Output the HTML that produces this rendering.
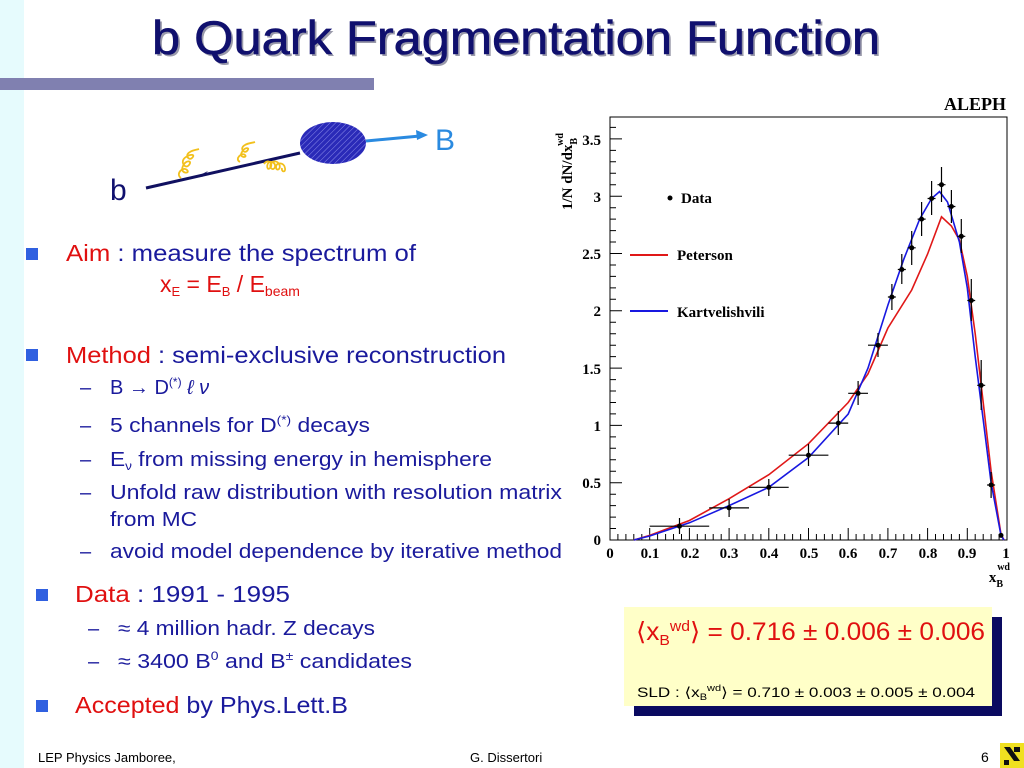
<!DOCTYPE html>
<html><head><meta charset="utf-8"><style>
html,body{margin:0;padding:0;background:#fff;}
svg{display:block}
.t{font-family:"Liberation Sans","DejaVu Sans",sans-serif;}
.s{font-family:"Liberation Serif","DejaVu Serif",serif;font-weight:bold;}
</style></head><body>
<svg width="1024" height="768" viewBox="0 0 1024 768" xmlns="http://www.w3.org/2000/svg">
<defs>
<pattern id="h" width="4" height="4" patternUnits="userSpaceOnUse" patternTransform="rotate(45)">
<rect width="4" height="4" fill="#2a2ab8"/><line x1="0" y1="0" x2="0" y2="4" stroke="#8a8ae8" stroke-width="1"/>
</pattern>
</defs>
<rect x="0" y="0" width="24" height="768" fill="#e6fbfd"/>
<rect x="0" y="78" width="374" height="12" fill="#8080b0"/>
<!-- title -->
<text class="t" x="154" y="56" font-size="47" fill="#9a9aaa" textLength="728" lengthAdjust="spacingAndGlyphs">b Quark Fragmentation Function</text>
<text class="t" x="152" y="54" font-size="47" fill="#10106e" stroke="#10106e" stroke-width="0.6" textLength="728" lengthAdjust="spacingAndGlyphs">b Quark Fragmentation Function</text>

<!-- diagram -->
<line x1="146" y1="188" x2="300" y2="153" stroke="#101060" stroke-width="3"/>
<path d="M200 175 l8 -4 l-6 6z" fill="#101060"/>
<ellipse cx="333" cy="143" rx="33" ry="21" fill="url(#h)"/>
<line x1="366" y1="141" x2="420" y2="136" stroke="#2a8ae0" stroke-width="3"/>
<path d="M428 135 l-12 -5 l1 10z" fill="#2a8ae0"/>
<g fill="none" stroke="#f2c01c" stroke-width="1.8">
<path d="M181 178 c-6 -4 2 -12 6 -8 c4 4 -8 4 -4 -4 c2 -6 10 -6 6 -1 c-4 5 -10 -4 -3 -8 c4 -3 10 -3 6 1 c-3 3 -8 -3 -2 -6 c3 -2 6 -2 9 -3"/>
<path d="M240 162 c-6 -3 2 -10 5 -7 c3 3 -7 3 -3 -3 c2 -5 9 -5 5 -1 c-3 3 -8 -3 -2 -6 c3 -2 7 -2 10 -3"/>
<path d="M264 164 c4 -6 10 0 6 4 c-4 4 -4 -8 2 -6 c6 2 2 10 -1 6 c-3 -4 4 -10 8 -4 c3 5 -3 8 -3 3 c0 -5 8 -5 9 1 c1 5 -4 4 -3 0"/>
</g>
<text class="t" x="110" y="200" font-size="30" fill="#10106e">b</text>
<text class="t" x="435" y="150" font-size="30" fill="#2a8ae0">B</text>

<!-- bullets -->
<g class="t" fill="#1a1a9c">
<rect x="26" y="248" width="12" height="12" fill="#3060e0"/>
<text x="66" y="261" font-size="23" textLength="350" lengthAdjust="spacingAndGlyphs"><tspan fill="#e01010">Aim</tspan> : measure the spectrum of</text>
<text x="160" y="292" font-size="23" fill="#e01010">x<tspan font-size="13" dy="4">E</tspan><tspan dy="-4"> = E</tspan><tspan font-size="13" dy="4">B</tspan><tspan dy="-4"> / E</tspan><tspan font-size="14" dy="4">beam</tspan></text>
<rect x="26" y="349" width="12" height="12" fill="#3060e0"/>
<text x="66" y="363" font-size="23" textLength="440" lengthAdjust="spacingAndGlyphs"><tspan fill="#e01010">Method</tspan> : semi-exclusive reconstruction</text>
<g font-size="20">
<text x="80" y="394">–</text><text x="110" y="394">B → D<tspan font-size="12" dy="-8">(*)</tspan><tspan dy="8" font-style="italic"> ℓ ν</tspan></text>
<text x="80" y="432">–</text><text x="110" y="432" textLength="260" lengthAdjust="spacingAndGlyphs">5 channels for D<tspan font-size="12" dy="-8">(*)</tspan><tspan dy="8"> decays</tspan></text>
<text x="80" y="466">–</text><text x="110" y="466" textLength="382" lengthAdjust="spacingAndGlyphs">E<tspan font-size="12" dy="4">ν</tspan><tspan dy="-4"> from missing energy in hemisphere</tspan></text>
<text x="80" y="499">–</text><text x="110" y="499" textLength="452" lengthAdjust="spacingAndGlyphs">Unfold raw distribution with resolution matrix</text>
<text x="110" y="526" textLength="87" lengthAdjust="spacingAndGlyphs">from MC</text>
<text x="80" y="558">–</text><text x="110" y="558" textLength="452" lengthAdjust="spacingAndGlyphs">avoid model dependence by iterative method</text>
</g>
<rect x="36" y="589" width="12" height="12" fill="#3060e0"/>
<text x="75" y="602" font-size="23" textLength="215" lengthAdjust="spacingAndGlyphs"><tspan fill="#e01010">Data</tspan> : 1991 - 1995</text>
<g font-size="20">
<text x="88" y="635">–</text><text x="118" y="635" textLength="257" lengthAdjust="spacingAndGlyphs">≈ 4 million hadr. Z decays</text>
<text x="88" y="668">–</text><text x="118" y="668" textLength="294" lengthAdjust="spacingAndGlyphs">≈ 3400  B<tspan font-size="12" dy="-8">0</tspan><tspan dy="8"> and B</tspan><tspan font-size="12" dy="-8">±</tspan><tspan dy="8"> candidates</tspan></text>
</g>
<rect x="36" y="700" width="12" height="12" fill="#3060e0"/>
<text x="75" y="713" font-size="23" textLength="273" lengthAdjust="spacingAndGlyphs"><tspan fill="#e01010">Accepted</tspan> by Phys.Lett.B</text>
</g>

<!-- footer -->
<g class="t" font-size="13" fill="#000">
<text x="38" y="762">LEP Physics Jamboree,</text>
<text x="470" y="762">G. Dissertori</text>
<text x="981" y="762" font-size="14">6</text>
</g>
<rect x="1000" y="743" width="24" height="25" fill="#f0e020"/>
<path d="M1004 747 l6 0 l10 14 l-6 0z M1004 760 l5 0 l0 5 l-5 0z M1014 747 l6 0 l0 5 l-6 0z" fill="#111"/>

<!-- result box -->
<rect x="634" y="617" width="368" height="99" fill="#0a0a60"/>
<rect x="624" y="607" width="368" height="99" fill="#ffffc8"/>
<text class="t" x="636" y="640" font-size="25" fill="#e01010" textLength="349" lengthAdjust="spacingAndGlyphs">⟨x<tspan font-size="15" dy="5">B</tspan><tspan font-size="15" dy="-14">wd</tspan><tspan dy="9">⟩ = 0.716 ± 0.006 ± 0.006</tspan></text>
<text class="t" x="637" y="697" font-size="14" fill="#000" textLength="338" lengthAdjust="spacingAndGlyphs">SLD : ⟨x<tspan font-size="9" dy="3">B</tspan><tspan font-size="9" dy="-9">wd</tspan><tspan dy="6">⟩ = 0.710 ± 0.003 ± 0.005 ± 0.004</tspan></text>

<!-- chart -->
<rect x="610" y="117" width="397" height="423" fill="none" stroke="#000" stroke-width="1"/>
<g stroke="#000" stroke-width="1">
<path d="M610 540 h12 M610 482.7 h12 M610 425.4 h12 M610 368.1 h12 M610 310.8 h12 M610 253.5 h12 M610 196.2 h12 M610 138.9 h12"/>
<path d="M610 528.5 h6 M610 517.1 h6 M610 505.6 h6 M610 494.2 h6 M610 471.2 h6 M610 459.8 h6 M610 448.3 h6 M610 436.9 h6 M610 413.9 h6 M610 402.5 h6 M610 391 h6 M610 379.6 h6 M610 356.6 h6 M610 345.2 h6 M610 333.7 h6 M610 322.3 h6 M610 299.3 h6 M610 287.9 h6 M610 276.4 h6 M610 265 h6 M610 242 h6 M610 230.6 h6 M610 219.1 h6 M610 207.7 h6 M610 184.7 h6 M610 173.3 h6 M610 161.8 h6 M610 150.4 h6 M610 127.4 h6"/>
<path d="M649.7 540 v-12 M689.4 540 v-12 M729.1 540 v-12 M768.8 540 v-12 M808.5 540 v-12 M848.2 540 v-12 M887.9 540 v-12 M927.6 540 v-12 M967.3 540 v-12"/>
<path d="M617.9 540v-6M625.9 540v-6M633.8 540v-6M641.8 540v-6M657.6 540v-6M665.6 540v-6M673.5 540v-6M681.5 540v-6M697.3 540v-6M705.3 540v-6M713.2 540v-6M721.2 540v-6M737 540v-6M745 540v-6M752.9 540v-6M760.9 540v-6M776.7 540v-6M784.7 540v-6M792.6 540v-6M800.6 540v-6M816.4 540v-6M824.4 540v-6M832.3 540v-6M840.3 540v-6M856.1 540v-6M864.1 540v-6M872 540v-6M880 540v-6M895.8 540v-6M903.8 540v-6M911.7 540v-6M919.7 540v-6M935.5 540v-6M943.5 540v-6M951.4 540v-6M959.4 540v-6M975.2 540v-6M983.2 540v-6M991.1 540v-6M999.1 540v-6"/>
</g>
<g class="s" font-size="15" fill="#000" text-anchor="end">
<text x="601" y="545">0</text><text x="601" y="488">0.5</text><text x="601" y="431">1</text><text x="601" y="374">1.5</text><text x="601" y="316">2</text><text x="601" y="259">2.5</text><text x="601" y="202">3</text><text x="601" y="145">3.5</text>
</g>
<g class="s" font-size="15" fill="#000" text-anchor="middle">
<text x="610" y="558">0</text><text x="650" y="558">0.1</text><text x="690" y="558">0.2</text><text x="729" y="558">0.3</text><text x="769" y="558">0.4</text><text x="809" y="558">0.5</text><text x="848" y="558">0.6</text><text x="888" y="558">0.7</text><text x="928" y="558">0.8</text><text x="967" y="558">0.9</text><text x="1006" y="558">1</text>
</g>
<text class="s" x="1003" y="582" font-size="15" text-anchor="end">x<tspan font-size="10" dy="5">B</tspan></text>
<text class="s" x="1010" y="570" font-size="10" text-anchor="end">wd</text>
<text class="s" x="1006" y="110" font-size="18" text-anchor="end">ALEPH</text>
<text class="s" transform="translate(572,210) rotate(-90)" font-size="15">1/N dN/dx<tspan font-size="10" dy="5">B</tspan><tspan font-size="10" dy="-14" dx="-8">wd</tspan></text>
<!-- legend -->
<circle cx="670" cy="198" r="2.5" fill="#000"/>
<text class="s" x="681" y="203" font-size="15">Data</text>
<line x1="630" y1="255" x2="668" y2="255" stroke="#e01818" stroke-width="2"/>
<text class="s" x="677" y="260" font-size="15">Peterson</text>
<line x1="630" y1="311" x2="668" y2="311" stroke="#1818e0" stroke-width="2"/>
<text class="s" x="677" y="317" font-size="15">Kartvelishvili</text>
<!-- curves -->
<polyline fill="none" stroke="#e01818" stroke-width="1.6" points="633.8,540 649.7,535.4 689.4,520.5 729.1,498.7 768.8,474.7 808.5,443.7 848.2,402.5 868,373.8 887.9,328 911.7,290 927.6,254 941.5,216.8 951.4,226 959.4,240 967.3,276.4 975.2,333.7 983.2,402.5 991.1,471.2 1001,534.3 1004,540"/>
<polyline fill="none" stroke="#1818e0" stroke-width="1.6" points="633.8,540 649.7,536 689.4,522.8 729.1,505.6 768.8,487.3 808.5,457.5 848.2,414 868,368.1 887.9,305.1 903.8,259.2 919.7,219.1 931.6,198.5 939.5,191.6 947.5,202 959.4,242 967.3,287.9 975.2,356.6 983.2,419.7 991.1,482.7 1001,535.4 1004,540"/>
<!-- data -->
<g stroke="#000" stroke-width="1.2">
<path d="M649.7 526.2 H709.2 M679.5 518 v16"/>
<path d="M709.2 507.9 H749 M729.1 499 v18"/>
<path d="M749 487.3 H788.7 M768.8 479 v17"/>
<path d="M788.7 455.2 H828.4 M808.5 444 v22"/>
<path d="M828.4 423.1 H848.2 M838.3 411 v24"/>
<path d="M848.2 393.3 H868 M858.1 381 v24"/>
<path d="M868 345.2 H887.9 M878 333 v24"/>
<path d="M887.9 297 H895.8 M891.9 284 v26"/>
<path d="M897.8 269.5 H905.8 M901.8 254 v30"/>
<path d="M907.7 247.8 H915.7 M911.7 231 v34"/>
<path d="M917.6 219.1 H925.6 M921.6 202 v34"/>
<path d="M927.6 198.5 H935.5 M931.6 181 v34"/>
<path d="M937.5 184.7 H945.5 M941.5 167 v35"/>
<path d="M947.4 206.5 H955.4 M951.4 190 v33"/>
<path d="M957.3 236.3 H965.3 M961.3 219 v34"/>
<path d="M967.3 300.5 H975.2 M971.3 279 v42"/>
<path d="M977.2 385.3 H985.2 M981.2 360 v50"/>
<path d="M987.1 485 H995.1 M991.1 472 v26"/>
</g>
<g fill="#000">
<circle cx="679.5" cy="526.2" r="2.5"/><circle cx="729.1" cy="507.9" r="2.5"/><circle cx="768.8" cy="487.3" r="2.5"/><circle cx="808.5" cy="455.2" r="2.5"/><circle cx="838.3" cy="423.1" r="2.5"/><circle cx="858.1" cy="393.3" r="2.5"/><circle cx="878" cy="345.2" r="2.5"/><circle cx="891.9" cy="297" r="2.5"/><circle cx="901.8" cy="269.5" r="2.5"/><circle cx="911.7" cy="247.8" r="2.5"/><circle cx="921.6" cy="219.1" r="2.5"/><circle cx="931.6" cy="198.5" r="2.5"/><circle cx="941.5" cy="184.7" r="2.5"/><circle cx="951.4" cy="206.5" r="2.5"/><circle cx="961.3" cy="236.3" r="2.5"/><circle cx="971.3" cy="300.5" r="2.5"/><circle cx="981.2" cy="385.3" r="2.5"/><circle cx="991.1" cy="485" r="2.5"/><circle cx="1001" cy="535.4" r="2.5"/>
</g>
</svg>
</body></html>
